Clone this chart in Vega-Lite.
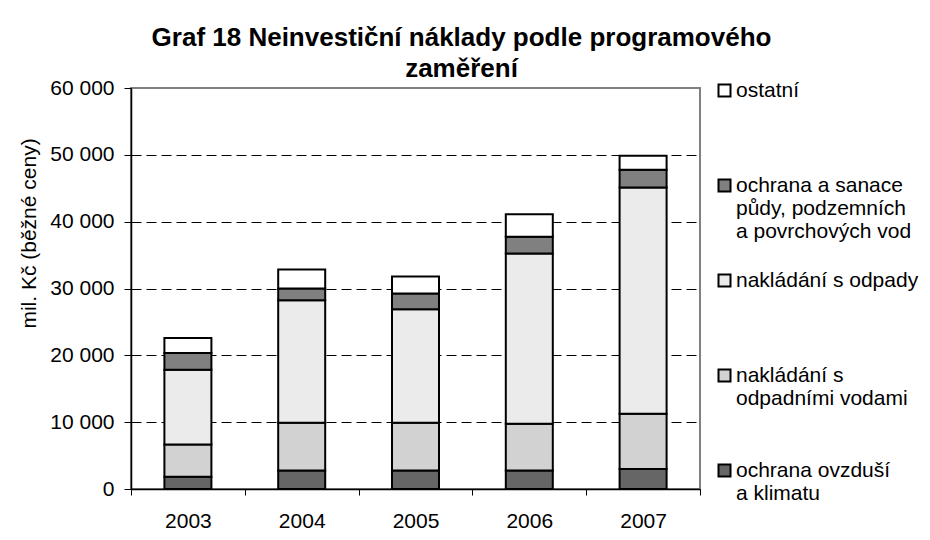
{
  "$schema": "https://vega.github.io/schema/vega-lite/v6.json",
  "width": 569,
  "height": 401,
  "autosize": "none",
  "padding": {"left": 131, "top": 88, "right": 230, "bottom": 51},
  "background": "white",
  "title": {
    "text": ["Graf 18 Neinvestiční náklady podle programového", "zaměření"],
    "font": "Liberation Sans",
    "fontSize": 26,
    "fontWeight": "bold",
    "color": "black",
    "anchor": "middle",
    "frame": "group",
    "dx": 46,
    "offset": -5,
    "lineHeight": 31
  },
  "data": {
    "values": [
      {"rok": "2003", "k": "ochrana ovzduší a klimatu", "hodnota": 1850},
      {"rok": "2003", "k": "nakládání s odpadními vodami", "hodnota": 4800},
      {"rok": "2003", "k": "nakládání s odpady", "hodnota": 11200},
      {"rok": "2003", "k": "ochrana a sanace půdy, podzemních a povrchových vod", "hodnota": 2500},
      {"rok": "2003", "k": "ostatní", "hodnota": 2250},
      {"rok": "2004", "k": "ochrana ovzduší a klimatu", "hodnota": 2750},
      {"rok": "2004", "k": "nakládání s odpadními vodami", "hodnota": 7150},
      {"rok": "2004", "k": "nakládání s odpady", "hodnota": 18350},
      {"rok": "2004", "k": "ochrana a sanace půdy, podzemních a povrchových vod", "hodnota": 1750},
      {"rok": "2004", "k": "ostatní", "hodnota": 2850},
      {"rok": "2005", "k": "ochrana ovzduší a klimatu", "hodnota": 2750},
      {"rok": "2005", "k": "nakládání s odpadními vodami", "hodnota": 7150},
      {"rok": "2005", "k": "nakládání s odpady", "hodnota": 17000},
      {"rok": "2005", "k": "ochrana a sanace půdy, podzemních a povrchových vod", "hodnota": 2350},
      {"rok": "2005", "k": "ostatní", "hodnota": 2550},
      {"rok": "2006", "k": "ochrana ovzduší a klimatu", "hodnota": 2750},
      {"rok": "2006", "k": "nakládání s odpadními vodami", "hodnota": 7000},
      {"rok": "2006", "k": "nakládání s odpady", "hodnota": 25500},
      {"rok": "2006", "k": "ochrana a sanace půdy, podzemních a povrchových vod", "hodnota": 2500},
      {"rok": "2006", "k": "ostatní", "hodnota": 3350},
      {"rok": "2007", "k": "ochrana ovzduší a klimatu", "hodnota": 3000},
      {"rok": "2007", "k": "nakládání s odpadními vodami", "hodnota": 8250},
      {"rok": "2007", "k": "nakládání s odpady", "hodnota": 33850},
      {"rok": "2007", "k": "ochrana a sanace půdy, podzemních a povrchových vod", "hodnota": 2650},
      {"rok": "2007", "k": "ostatní", "hodnota": 2100}
    ]
  },
  "transform": [
    {"calculate": "indexof(['ostatní', 'ochrana a sanace půdy, podzemních a povrchových vod', 'nakládání s odpady', 'nakládání s odpadními vodami', 'ochrana ovzduší a klimatu'], datum.k)", "as": "poradi"}
  ],
  "mark": {"type": "bar", "size": 47, "stroke": "black", "strokeWidth": 2},
  "encoding": {
    "x": {
      "field": "rok",
      "type": "ordinal",
      "scale": {"paddingInner": 0, "paddingOuter": 0},
      "axis": {
        "title": null,
        "labelAngle": 0,
        "labelFont": "Liberation Sans",
        "labelFontSize": 21,
        "labelColor": "black",
        "labelPadding": 15,
        "tickBand": "extent",
        "tickSize": 6,
        "tickColor": "black",
        "tickWidth": 1,
        "domainColor": "black",
        "domainWidth": 1.5
      }
    },
    "y": {
      "field": "hodnota",
      "type": "quantitative",
      "stack": "zero",
      "scale": {"domain": [0, 60000], "nice": false},
      "axis": {
        "values": [0, 10000, 20000, 30000, 40000, 50000, 60000],
        "labelExpr": "replace(format(datum.value, ','), ',', ' ')",
        "labelFont": "Liberation Sans",
        "labelFontSize": 21,
        "labelColor": "black",
        "labelPadding": 10,
        "tickSize": 7,
        "tickColor": "black",
        "tickWidth": 1,
        "domainColor": "black",
        "domainWidth": 1.5,
        "grid": true,
        "gridColor": "black",
        "gridDash": [10, 5],
        "gridWidth": 1,
        "gridOpacity": {"condition": {"test": "datum.value == 0 || datum.value == 60000", "value": 0}, "value": 1},
        "title": "mil. Kč (běžné ceny)",
        "titleFont": "Liberation Sans",
        "titleFontSize": 21,
        "titleFontWeight": "normal",
        "titleColor": "black",
        "titleAngle": -90,
        "titleAlign": "center",
        "titleBaseline": "middle",
        "titleX": -102,
        "titleY": 145
      }
    },
    "color": {
      "field": "k",
      "type": "nominal",
      "scale": {
        "domain": ["ostatní", "ochrana a sanace půdy, podzemních a povrchových vod", "nakládání s odpady", "nakládání s odpadními vodami", "ochrana ovzduší a klimatu"],
        "range": ["#ffffff", "#808080", "#ebebeb", "#d2d2d2", "#666666"]
      },
      "legend": {
        "orient": "none",
        "legendX": 583,
        "legendY": -8,
        "title": null,
        "labelFont": "Liberation Sans",
        "labelFontSize": 21,
        "labelColor": "black",
        "labelLimit": 400,
        "labelOffset": 1,
        "labelBaseline": "middle",
        "labelExpr": "datum.label == 'ochrana a sanace půdy, podzemních a povrchových vod' ? ['ochrana a sanace', 'půdy, podzemních', 'a povrchových vod', ''] : datum.label == 'nakládání s odpadními vodami' ? ['nakládání s', 'odpadními vodami', '', ''] : datum.label == 'ochrana ovzduší a klimatu' ? ['ochrana ovzduší', 'a klimatu', '', ''] : [datum.label, '', '', '']",
        "symbolType": "square",
        "symbolSize": 144,
        "symbolStrokeColor": "black",
        "symbolStrokeWidth": 2,
        "symbolOpacity": 1,
        "rowPadding": 4
      }
    },
    "order": {"field": "poradi", "sort": "descending"}
  },
  "config": {
    "view": {"stroke": "#808080", "strokeWidth": 2},
    "font": "Liberation Sans"
  }
}
